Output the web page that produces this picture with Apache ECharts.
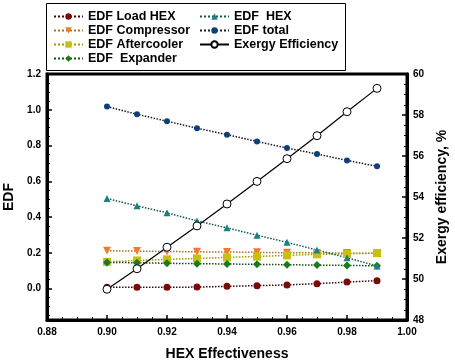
<!DOCTYPE html>
<html><head><meta charset="utf-8">
<script src="https://cdn.jsdelivr.net/npm/echarts@6/dist/echarts.min.js"></script>
<style>html,body{margin:0;padding:0;background:#fff}#c{width:455px;height:362px}</style>
</head><body><div id="c"></div>
<script>
const hexEff = [0.90,0.91,0.92,0.93,0.94,0.95,0.96,0.97,0.98,0.99];
const edfLoadHex = [0.008,0.008,0.008,0.009,0.013,0.017,0.021,0.028,0.037,0.045];
const edfCompressor = [0.212,0.210,0.208,0.206,0.205,0.203,0.201,0.200,0.199,0.198];
const edfAftercooler = [0.150,0.158,0.164,0.169,0.175,0.180,0.186,0.192,0.195,0.199];
const edfExpander = [0.147,0.145,0.142,0.140,0.138,0.136,0.134,0.132,0.130,0.128];
const edfHex = [0.504,0.463,0.424,0.379,0.340,0.299,0.259,0.216,0.173,0.127];
const edfTotal = [1.018,0.975,0.936,0.897,0.861,0.823,0.786,0.753,0.717,0.684];
const exergyEff = [49.50,50.50,51.55,52.59,53.66,54.76,55.87,56.99,58.16,59.30];
const leftLabels = [0,0.2,0.4,0.6,0.8,1.0,1.2];
const leftMinor = [-0.15,-0.1,-0.05,0.05,0.1,0.15,0.25,0.3,0.35,0.45,0.5,0.55,0.65,0.7,0.75,0.85,0.9,0.95,1.05,1.1,1.15];

const FONT = 'Liberation Sans, Arial, sans-serif';
const pair = a => a.map((v,i)=>[hexEff[i], v]);
function ser(name, data, color, lineColor, symbol, size, yIdx){
  return {name, type:'line', data:pair(data), yAxisIndex:yIdx||0,
    symbol, symbolSize:size, showSymbol:true,
    itemStyle:{color:color},
    lineStyle:{type:'dotted', width:1.5, color:lineColor}};
}
const series = [
  ser('EDF Load HEX', edfLoadHex, '#7a0a0a', '#3a0a0a', 'circle', 7),
  ser('EDF Compressor', edfCompressor, '#f07d2a', '#c06a20', 'path://M0,0 L10,0 L5,9 Z', 8),
  ser('EDF Aftercooler', edfAftercooler, '#c8c010', '#a09a00', 'rect', 8),
  ser('EDF  Expander', edfExpander, '#1a7a1a', '#105010', 'diamond', 8),
  ser('EDF  HEX', edfHex, '#1a8080', '#105858', 'triangle', 7),
  ser('EDF total', edfTotal, '#0e3f7a', '#1a1a2a', 'circle', 6),
  {name:'Exergy Efficiency', type:'line', data:pair(exergyEff), yAxisIndex:2,
   symbol:'circle', symbolSize:8, showSymbol:true,
   itemStyle:{color:'#fff', borderColor:'#000', borderWidth:1},
   lineStyle:{type:'solid', width:1.2, color:'#000'}}
];
const axisFont = {fontFamily:FONT, fontWeight:'bold', fontSize:10, color:'#000'};
const nameFont = {fontFamily:FONT, fontWeight:'bold', fontSize:14, color:'#000'};
const legendText = {fontFamily:FONT, fontWeight:'bold', fontSize:12.5, color:'#000', lineHeight:13};
const chart = echarts.init(document.getElementById('c'));
chart.setOption({
  animation:false,
  backgroundColor:'#fff',
  grid:{left:47, right:48, top:74, bottom:42, outerBoundsMode:'none', containLabel:false,
        show:true, borderColor:'#000', borderWidth:3, backgroundColor:'transparent'},
  xAxis:{type:'value', min:0.88, max:1.00, interval:0.02,
    name:'HEX Effectiveness', nameLocation:'middle', nameGap:27, nameTextStyle:nameFont,
    axisLine:{onZero:false, lineStyle:{color:'#000', width:3}},
    axisTick:{inside:true, length:5, lineStyle:{color:'#000', width:1.5}},
    minorTick:{show:true, splitNumber:4, length:3, lineStyle:{color:'#000', width:1}},
    axisLabel:Object.assign({formatter:v=>v.toFixed(2), margin:7}, axisFont),
    splitLine:{show:false}},
  yAxis:[
    {type:'value', min:-0.175, max:1.2, position:'left',
     name:'EDF', nameLocation:'middle', nameGap:27, nameTextStyle:nameFont,
     axisLine:{show:true, onZero:false, lineStyle:{color:'#000', width:3}},
     axisTick:{show:true, inside:true, length:5, customValues:leftLabels, lineStyle:{color:'#000', width:1.5}},
     axisLabel:Object.assign({customValues:leftLabels, formatter:v=>v.toFixed(1), margin:6}, axisFont),
     splitLine:{show:false}},
    {type:'value', min:-0.175, max:1.2, position:'left',
     axisLine:{show:false, onZero:false},
     axisTick:{show:true, inside:true, length:3, customValues:leftMinor, lineStyle:{color:'#000', width:1}},
     axisLabel:{show:false, customValues:[]},
     splitLine:{show:false}},
    {type:'value', min:48, max:60, interval:2, position:'right',
     name:'Exergy efficiency, %', nameLocation:'middle', nameGap:28, nameRotate:90, nameTextStyle:nameFont,
     axisLine:{show:true, onZero:false, lineStyle:{color:'#000', width:3}},
     axisTick:{show:true, inside:true, length:5, lineStyle:{color:'#000', width:1.5}},
     minorTick:{show:true, splitNumber:4, length:3, lineStyle:{color:'#000', width:1}},
     axisLabel:Object.assign({margin:6}, axisFont),
     splitLine:{show:false}}
  ],
  legend:[
    {data:['EDF Load HEX','EDF Compressor','EDF Aftercooler','EDF  Expander'],
     orient:'vertical', left:48, top:5, padding:[5,5,5,5], itemWidth:29, itemHeight:8, itemGap:1,
     textStyle:legendText},
    {data:['EDF  HEX','EDF total','Exergy Efficiency'],
     orient:'vertical', left:194, top:5, padding:[5,5,5,5], itemWidth:29, itemHeight:8, itemGap:1,
     textStyle:legendText}
  ],
  graphic:[{type:'rect', shape:{x:46.5, y:3.5, width:299, height:67}, style:{fill:'none', stroke:'#000', lineWidth:1}, z:-1}],
  series
});
</script></body></html>
